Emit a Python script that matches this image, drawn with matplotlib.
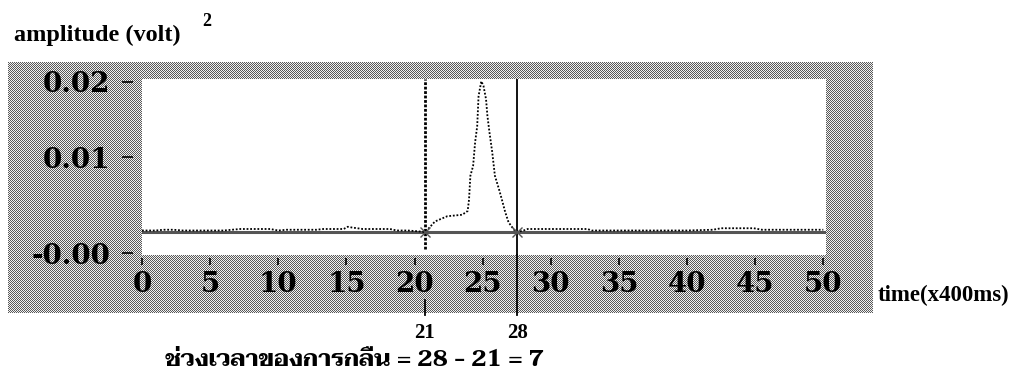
import numpy as np
import matplotlib
matplotlib.use("Agg")
import matplotlib.pyplot as plt
from matplotlib.transforms import blended_transform_factory

# ---- data ----
trace_x = [0, 1, 1.6, 2.3, 3, 4, 5, 6, 7.2, 8, 9.4, 10, 10.6, 11.5, 12.8, 13.3, 14,
           14.8, 15.1, 15.4, 16.2, 17, 18.2, 18.7, 19.5, 20.2, 20.75,
           20.9, 21.5, 22.4, 23.5, 23.9, 24.0, 24.1, 24.3, 24.45, 24.6, 24.7, 24.9,
           25.06, 25.25, 25.35, 25.5, 25.7, 25.9, 26.2, 26.4, 26.65, 26.9, 27.3, 27.55,
           28, 28.3, 30, 32.7, 33, 36, 40, 41.9, 42.5, 44.9, 45.5, 48, 50]
trace_y = [0.0002, 0.0002, 0.0003, 0.0003, 0.0002, 0.0002, 0.0002, 0.0002, 0.0004, 0.0004,
           0.0004, 0.0002, 0.0003, 0.0003, 0.0003, 0.0004, 0.0004, 0.0004, 0.0007, 0.0006,
           0.0004, 0.0004, 0.0004, 0.0002, 0.0002, 0.0001, 0.0,
           0.0002, 0.0014, 0.0021, 0.0023, 0.0028, 0.0043, 0.0075, 0.0088, 0.0120, 0.0141,
           0.0181, 0.0201, 0.0195, 0.0177, 0.0155, 0.0133, 0.0107, 0.0075, 0.0057, 0.0044,
           0.0027, 0.0013, 0.0003, 0.0,
           0.0002, 0.0004, 0.0004, 0.0004, 0.0002, 0.0002, 0.0002, 0.0003, 0.0005, 0.0005,
           0.0003, 0.0003, 0.0003]
x_ticks = [0, 5, 10, 15, 20, 25, 30, 35, 40, 45, 50]
y_ticks = [0.02, 0.01, -0.0028]
y_tick_labels = ["0.02", "0.01", "-0.00"]
cursor_x = [20.75, 27.55]
cursor_labels = ["21", "28"]
duration_text = "ช่วงเวลาของการกลืน = 28 - 21 = 7"

W, H = 1021, 389
fig = plt.figure(figsize=(W / 100, H / 100), dpi=100)

# dithered grey panel behind the plot
img = np.zeros((H, W, 4))
yy, xx = np.mgrid[0:H, 0:W]
checker = ((xx + yy) % 2 == 0)
region = (xx >= 8) & (xx <= 872) & (yy >= 62) & (yy <= 312)
img[..., 0:3] = np.where(checker[..., None], 0.35, 0.95)
img[..., 3] = region.astype(float)
fig.figimage(img[::-1], xo=0, yo=0, origin="lower", zorder=-1)

ax = fig.add_axes([142 / W, 1 - 254.5 / H, 684 / W, 175.5 / H])
ax.set_facecolor("white")
ax.set_xlim(0, 50.2)
ax.set_ylim(-0.003, 0.0204)

# baseline and trace
ax.axhline(0, color="#555555", lw=2.2, zorder=2)
ax.plot(trace_x, trace_y, color="black", lw=1.3, ls=(0, (1, 1)), zorder=3)

# cursors
ax.axvline(cursor_x[0], ymin=0.03, ymax=1, color="black", lw=2, ls=(0, (1, 0.6)), zorder=4)
ax.axvline(cursor_x[1], color="black", lw=1.3, zorder=4)
tr = blended_transform_factory(ax.transData, ax.transAxes)
ax.plot([cursor_x[0], cursor_x[0]], [-0.26, -0.345], transform=tr, color="black",
        lw=1.3, clip_on=False)
ax.plot([cursor_x[1], cursor_x[1]], [0, -0.345], transform=tr, color="black",
        lw=1.3, clip_on=False)
ax.plot(cursor_x, [0, 0], ls="none", marker="x", ms=7, mew=1.0, color="#555555", zorder=5)
for cx, lab in zip(cursor_x, cursor_labels):
    ax.text(cx, -0.45, lab, transform=tr, ha="center", va="center",
            fontsize=15, fontweight="bold", family="Liberation Serif")

# spines & ticks
for s in ax.spines.values():
    s.set_visible(False)
ax.spines["bottom"].set_position(("outward", 2.2))
ax.spines["left"].set_position(("outward", 6.5))
ax.set_xticks(x_ticks)
ax.set_yticks(y_ticks)
ax.set_yticklabels(y_tick_labels)
ax.tick_params(axis="x", direction="out", length=5, width=1.2, pad=5)
ax.tick_params(axis="y", direction="out", length=8, width=1.2, pad=8.5)
for lab in ax.get_xticklabels() + ax.get_yticklabels():
    lab.set_fontfamily("DejaVu Serif")
    lab.set_fontweight("bold")
    lab.set_fontsize(20)

# texts
fig.text(14 / W, 1 - 35 / H, "amplitude (volt)", ha="left", va="center",
         fontsize=17.5, fontweight="bold", family="Liberation Serif")
fig.text(202 / W, 1 - 22 / H, "2", ha="left", va="center",
         fontsize=13, fontweight="bold", family="Liberation Serif")
fig.text(878 / W, 1 - 295 / H, "time(x400ms)", ha="left", va="center",
         fontsize=16.5, fontweight="bold", family="Liberation Serif")
fig.text(165 / W, 1 - 361 / H, duration_text, ha="left", va="center",
         fontsize=17, fontweight="bold", family=["Taviraj", "Liberation Serif"])

fig.savefig("out.png", dpi=100)
